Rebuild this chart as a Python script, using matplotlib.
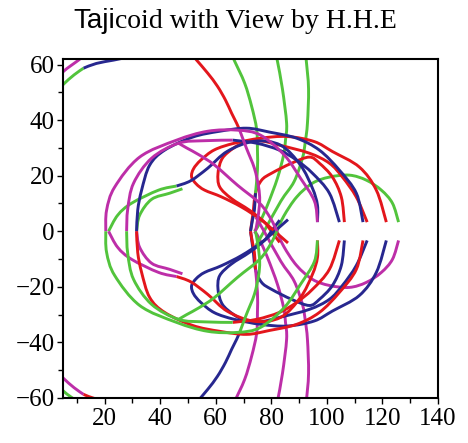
import matplotlib
matplotlib.use("Agg")
import matplotlib.pyplot as plt
from matplotlib.path import Path
from matplotlib.patches import PathPatch

# ---- strands of the upper half (y >= 0); the lower half is their mirror image ----
# outer magenta loop
loop_a_x = [96.6, 95.5, 90.5, 84.7, 76.1, 67.8, 57.1, 45.9, 32.6, 23.6, 20.7, 20.4]
loop_a_y = [3.3, 10.9, 19.1, 27.4, 34.6, 36.4, 36.0, 32.8, 26.7, 15.9, 7.6, 0.0]

# blue arc continued on the left by a magenta arc
loop_b_blue_x = [104.5, 100.9, 94.8, 89.1, 82.9, 74.7, 66.1]
loop_b_blue_y = [3.3, 13.7, 20.9, 25.6, 29.2, 31.7, 32.8]
loop_b_mag_x = [66.1, 56.0, 46.6, 36.9, 30.4, 28.3, 27.9]
loop_b_mag_y = [32.8, 32.6, 31.7, 26.3, 17.3, 8.0, 0.0]

# magenta branch diving to the axis (meets the outer green arc there)
dive_x = [46.6, 49.5, 54.0, 59.6, 67.8, 75.8, 79.8, 82.0]
dive_y = [31.7, 30.0, 27.5, 23.8, 16.6, 10.1, 4.5, 0.0]

# blue loop
loop_c_x = [113.0, 110.6, 104.5, 97.3, 89.1, 79.3, 71.1, 61.4, 51.7, 41.6, 36.2, 33.3, 31.9, 31.5]
loop_c_y = [3.3, 13.7, 22.0, 29.2, 33.5, 35.7, 37.1, 36.0, 33.9, 29.2, 23.8, 14.8, 7.6, 0.0]

# green arc turning into a blue arc
loop_d_green_x = [21.4, 24.7, 29.7, 39.4, 45.9]
loop_d_green_y = [0.0, 5.8, 10.1, 14.8, 16.3]
loop_d_blue_x = [45.9, 51.0, 57.1, 64.2, 73.9, 83.3, 90.5, 94.8, 96.6, 96.6]
loop_d_blue_y = [16.3, 18.2, 22.7, 28.8, 32.4, 31.0, 23.8, 15.5, 9.4, 3.3]

# short green arc on the lower left
short_green_x = [31.5, 32.6, 36.9, 43.4, 48.0]
short_green_y = [0.0, 5.8, 11.5, 13.7, 15.3]

# red branch from the upper edge, continued by magenta down to the axis
top_red_x = [52.0, 53.1, 57.1, 60.6, 63.5, 65.7, 67.5, 68.6]
top_red_y = [63.0, 61.6, 56.9, 52.2, 47.2, 42.5, 38.9, 36.4]
top_mag_x = [68.6, 71.0, 73.9, 75.4, 75.8, 75.2, 74.3]
top_mag_y = [36.4, 30.0, 22.7, 16.0, 10.9, 5.0, 0.0]

# red arcs folding back into inner cusps, crossing the axis
cusp_a_x = [121.4, 117.8, 111.7, 102.0, 95.4, 85.8, 76.2, 66.7, 59.5, 54.6, 52.0, 51.3,
            53.0, 56.0, 62.0, 69.3, 76.5, 81.2, 86.0]
cusp_a_y = [3.3, 14.8, 23.1, 28.7, 32.3, 34.1, 33.5, 31.7, 29.3, 25.6, 22.5, 19.6,
            17.0, 14.8, 12.4, 8.7, 4.0, 0.0, -4.2]
cusp_b_x = [114.5, 110.6, 105.6, 100.9, 93.7, 82.9, 75.5, 69.2, 64.5, 62.0, 60.8, 61.4,
            65.6, 72.1, 77.5, 80.0, 83.0]
cusp_b_y = [3.3, 12.3, 19.5, 24.5, 28.1, 31.0, 32.6, 31.5, 28.5, 25.6, 20.8, 16.0,
            11.8, 7.6, 3.3, 0.0, -4.0]

# low red arc, running down to the axis
low_red_x = [106.3, 105.2, 102.0, 97.3, 93.7, 87.3, 80.1, 76.5, 74.3, 73.4, 72.5]
low_red_y = [3.3, 12.3, 19.5, 24.5, 26.7, 24.5, 20.9, 18.4, 13.7, 6.5, 0.0]

# near-vertical branches leaving through the upper edge
v1_green_x = [66.0, 66.8, 70.4, 72.9, 74.7, 75.0, 75.0, 74.3]
v1_green_y = [63.0, 61.2, 53.3, 45.0, 36.8, 29.2, 22.0, 13.7]
v1_blue_x = [74.3, 73.9, 73.2, 72.5]
v1_blue_y = [13.7, 7.6, 4.0, 0.0]
v2_green_x = [81.8, 82.2, 84.0, 85.5, 85.1, 84.4, 82.2, 78.6, 75.4, 73.9]
v2_green_y = [63.0, 61.2, 51.2, 38.9, 32.8, 27.4, 19.1, 9.4, 2.2, 0.0]
v3_green_x = [92.4, 92.6, 93.4, 93.0, 92.2, 91.2, 88.2, 83.4, 77.4, 74.5]
v3_green_y = [63.0, 61.2, 51.2, 38.9, 32.0, 26.3, 17.9, 10.8, 0.0, -5.0]

# outer green arc on the right
arc_green_x = [125.8, 123.6, 119.6, 114.2, 108.1, 100.9, 94.8, 89.1, 84.5, 82.0]
arc_green_y = [3.3, 10.1, 14.8, 18.4, 20.2, 19.5, 17.3, 12.3, 5.5, 0.0]

# pieces in the upper-left corner
corner_mag_x = [3.0, 5.25, 10.6, 13.0]
corner_mag_y = [54.5, 57.6, 61.6, 63.5]
corner_green_x = [3.0, 5.25, 9.0, 12.4]
corner_green_y = [50.5, 53.0, 56.3, 58.7]
corner_blue_x = [12.4, 17.0, 23.2, 28.0]
corner_blue_y = [58.7, 60.4, 61.6, 62.6]

x_ticks = [20, 40, 60, 80, 100, 120, 140]
y_ticks = [-60, -40, -20, 0, 20, 40, 60]

COLORS = {
    "red": "#e3161c",
    "green": "#52c43c",
    "blue": "#27278f",
    "magenta": "#bd2ea8",
}
# colour of each strand's mirror image below the axis
MIRROR = {"magenta": "green", "green": "magenta", "blue": "red", "red": "blue"}

strands = [
    ("green", arc_green_x, arc_green_y),
    ("green", v2_green_x, v2_green_y),
    ("green", v3_green_x, v3_green_y),
    ("green", loop_d_green_x, loop_d_green_y),
    ("green", short_green_x, short_green_y),
    ("red", low_red_x, low_red_y),
    ("green", v1_green_x, v1_green_y),
    ("blue", v1_blue_x, v1_blue_y),
    ("red", cusp_b_x, cusp_b_y),
    ("red", cusp_a_x, cusp_a_y),
    ("red", top_red_x, top_red_y),
    ("blue", loop_d_blue_x, loop_d_blue_y),
    ("blue", loop_c_x, loop_c_y),
    ("blue", loop_b_blue_x, loop_b_blue_y),
    ("magenta", top_mag_x, top_mag_y),
    ("magenta", dive_x, dive_y),
    ("magenta", loop_b_mag_x, loop_b_mag_y),
    ("magenta", loop_a_x, loop_a_y),
    ("magenta", corner_mag_x, corner_mag_y),
    ("green", corner_green_x, corner_green_y),
    ("blue", corner_blue_x, corner_blue_y),
]


def smooth_path(xs, ys):
    """Cubic Bezier path passing through the given points (Catmull-Rom tangents)."""
    pts = list(zip(xs, ys))
    n = len(pts)
    verts = [pts[0]]
    codes = [Path.MOVETO]
    for i in range(n - 1):
        p0 = pts[i - 1] if i > 0 else pts[i]
        p1 = pts[i]
        p2 = pts[i + 1]
        p3 = pts[i + 2] if i + 2 < n else pts[i + 1]
        c1 = (p1[0] + (p2[0] - p0[0]) / 6.0, p1[1] + (p2[1] - p0[1]) / 6.0)
        c2 = (p2[0] - (p3[0] - p1[0]) / 6.0, p2[1] - (p3[1] - p1[1]) / 6.0)
        verts += [c1, c2, p2]
        codes += [Path.CURVE4] * 3
    return Path(verts, codes)


fig = plt.figure(figsize=(4.68, 4.43), dpi=100)
ax = fig.add_axes([0.1346, 0.1016, 0.8013, 0.7652])

for color, xs, ys in strands:
    for c, yy in ((color, ys), (MIRROR[color], [-v for v in ys])):
        patch = PathPatch(smooth_path(xs, yy), facecolor="none",
                          edgecolor=COLORS[c], lw=2.1, capstyle="butt")
        ax.add_patch(patch)

ax.set_xlim(5, 140)
ax.set_ylim(-60, 62)

serif = ["Liberation Serif", "DejaVu Serif"]
sans = ["Liberation Sans", "DejaVu Sans"]
ax.set_xticks(x_ticks)
ax.set_yticks(y_ticks)
ax.set_xticks([10, 30, 50, 70, 90, 110, 130], minor=True)
ax.set_yticks([-50, -30, -10, 10, 30, 50], minor=True)
ax.set_xticklabels([str(v) for v in x_ticks], fontfamily=serif, fontsize=18)
ax.set_yticklabels([str(v).replace("-", "\u2212") for v in y_ticks], fontfamily=serif, fontsize=18)
ax.tick_params(which="major", direction="out", length=4.5, width=1.0, top=False, right=False)
ax.tick_params(which="minor", direction="out", length=3.5, width=1.0, top=False, right=False)
ax.tick_params(axis="x", which="major", pad=3)
ax.tick_params(axis="y", which="major", pad=1.5)
for sp in ax.spines.values():
    sp.set_linewidth(1.5)

# title: the first letters are set in a sans face, the rest in a serif face
fig.text(0.2457, 0.936, "Taji", ha="right", va="baseline",
         fontfamily=sans, fontsize=20)
fig.text(0.2457, 0.936, "coid with View by H.H.E", ha="left", va="baseline",
         fontfamily=serif, fontsize=20)

fig.savefig("out.png", dpi=100)
